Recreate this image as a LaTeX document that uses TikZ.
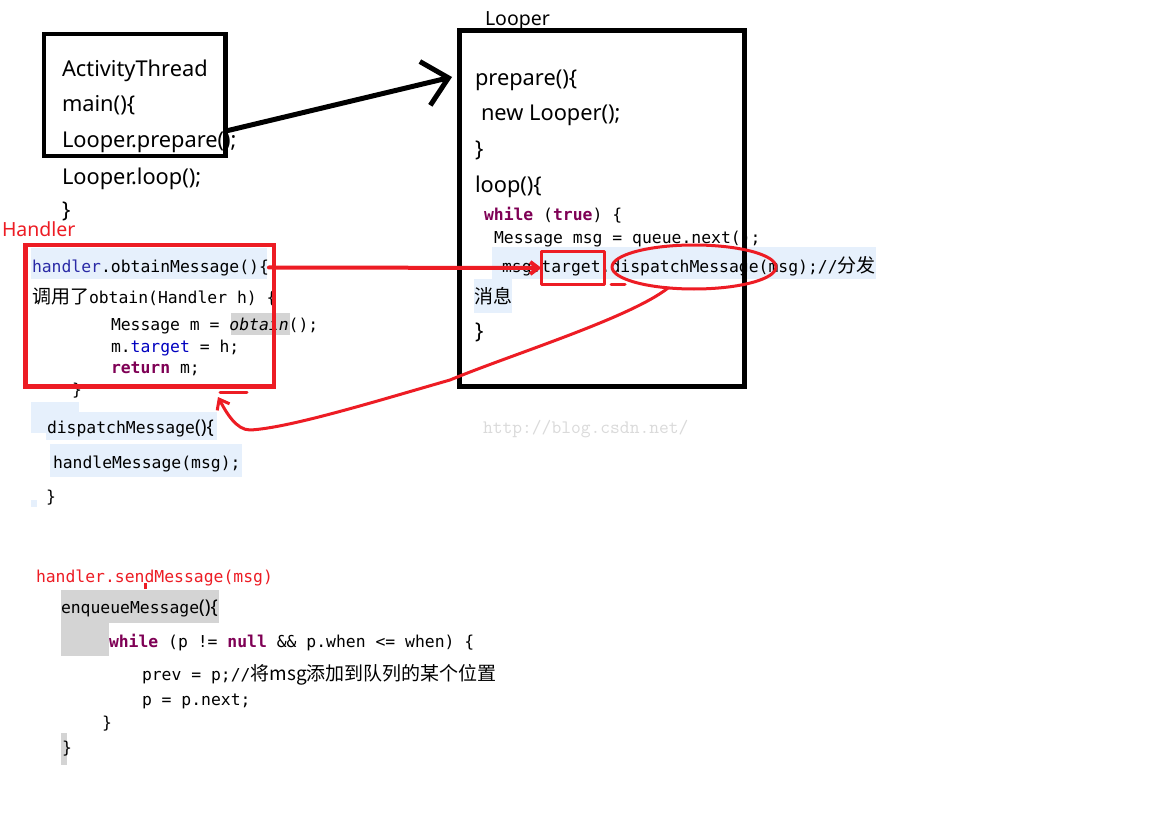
\documentclass[tikz,border=0pt]{standalone}
\usepackage{fontspec}
\usepackage{xcolor}
\usetikzlibrary{arrows.meta,shapes.geometric}
\setmainfont{Noto Sans}
\newfontfamily\cjk{Noto Sans CJK SC}
\newfontfamily\codefont{DejaVu Sans Mono}
\definecolor{ink}{HTML}{000000}
\definecolor{penred}{HTML}{ED1C24}
\definecolor{selblue}{HTML}{E6F0FC}
\definecolor{selgray}{HTML}{D4D4D4}
\definecolor{kwpurple}{HTML}{7F0055}
\definecolor{fieldblue}{HTML}{0000C0}
\definecolor{varblue}{HTML}{2A2AA6}
\definecolor{markgray}{HTML}{DADADA}
\newcommand{\kw}[1]{\textcolor{kwpurple}{\bfseries #1}}
\newcommand{\fld}[1]{\textcolor{fieldblue}{#1}}
\newcommand{\zh}[1]{{\cjk\fontsize{19}{19}\selectfont #1}}
\newcommand{\brc}[1]{{\rmfamily\fontsize{19}{19}\selectfont #1}}

\begin{document}
\begin{tikzpicture}[
  x=1pt, y=-1pt,
  every node/.style={inner sep=0pt, outer sep=0pt},
  plain/.style={anchor=base west, font=\fontsize{21.8}{21.8}\selectfont},
  tag/.style={anchor=base west, font=\fontsize{19.5}{19.5}\selectfont},
  code/.style={anchor=base west, font=\codefont\fontsize{16.4}{16.4}\selectfont},
  frame/.style={draw=ink, line width=4.5pt, rectangle},
  redframe/.style={draw=penred, line width=4.5pt, rectangle},
  redpen/.style={draw=penred, line width=3pt, line cap=round, line join=round},
  inkpen/.style={draw=ink, line width=5pt, line cap=round, line join=round},
  selb/.style={fill=selblue},
  selg/.style={fill=selgray}
]
\useasboundingbox (0,0) rectangle (1157,832);
\fill[white] (0,0) rectangle (1157,832);

% Selection shading
\fill[selb] (492,247) rectangle (876,279);
\fill[selb] (474,279) rectangle (512,313);
\fill[selb] (31,248) rectangle (267,279);
\fill[selb] (31,402) rectangle (79,412);
\fill[selb] (31,402) rectangle (46,433);
\fill[selb] (46,412) rectangle (217,440);
\fill[selb] (50,444) rectangle (242,477);
\fill[selb] (31,500) rectangle (37,507);
\fill[selg] (231,313) rectangle (290,335);
\fill[selg] (61,590) rectangle (219,623);
\fill[selg] (61,623) rectangle (109,656);
\fill[selg] (61,733) rectangle (67,765);

% ActivityThread
\node[plain] (atname) at (62,77) {ActivityThread};
\node[plain] (atmain) at (62,112) {main()\{};
\node[plain] (prep) at (62,148) {Looper.prepare();};
\node[plain] (loopcall) at (62,184) {Looper.loop();};
\node[plain] (atend) at (62,217) {\}};
\node[frame, minimum width=181.5pt, minimum height=122pt] (atbox) at (134.75,95) {};

% Looper
\node[tag] (lplabel) at (485,26) {Looper};
\node[plain] (lpprep) at (475,86) {prepare()\{};
\node[plain] (lpnew) at (481,121) {new Looper();};
\node[plain] (lpclose) at (475,157) {\}};
\node[plain] (lploop) at (475,193) {loop()\{};
\node[code] (lpwhile) at (484,220) {\kw{while} (\kw{true}) \{};
\node[code] (lpmsg) at (494,243) {Message msg = queue.next();};
\node[code] (lpdisp) at (502,272) {msg.target.dispatchMessage(msg);//\zh{分发}};
\node[tag] (lpinfo) at (474,303) {\zh{消息}};
\node[plain] (lpend) at (475,338) {\}};
\node[frame, line width=5pt, minimum width=285pt, minimum height=355pt] (lpbox) at (602,208.5) {};

% Handler
\node[tag, text=penred] (hlabel) at (2,236) {Handler};
\node[code] (obt) at (32,272) {\textcolor{varblue}{handler}.obtainMessage()\{};
\node[code] (obtcall) at (32,303) {\zh{调用了}obtain(Handler h) \{};
\node[code] (msgm) at (111,330) {Message m = \textit{obtain}();};
\node[code] (mtgt) at (111,352) {m.\fld{target} = h;};
\node[code] (mret) at (111,373) {\kw{return} m;};
\node[code] (hclose) at (72,395) {\}};
\node[redframe, minimum width=248.5pt, minimum height=141.5pt] (hbox) at (149.75,315.75) {};
\node[code] (dispdef) at (47,433) {dispatchMessage\brc{()\{}};
\node[code] (hmsg) at (53,468) {handleMessage(msg);};
\node[code] (dispend) at (46,502) {\}};

% watermark
\node[anchor=base west, font=\ttfamily\fontsize{19}{19}\selectfont, text=markgray] (mark) at (483,433) {http://blog.csdn.net/};

% sendMessage
\node[code, text=penred] (sendlabel) at (36,582) {handler.sendMessage(msg)};
\node[code] (enq) at (61,613) {enqueueMessage\brc{()\{}};
\node[code] (ewhile) at (109,647) {\kw{while} (p != \kw{null} \&\& p.when <= when) \{};
\node[code] (eprev) at (142,680) {prev = p;//\zh{将msg添加到队列的某个位置}};
\node[code] (enext) at (142,705) {p = p.next;};
\node[code] (eclose) at (102,728) {\}};
\node[code] (eend) at (62,753) {\}};
\draw[penred, line width=3pt] (145,583) -- (145,589);

% ActivityThread -> Looper
\coordinate (armstart) at (226,131);
\coordinate (armtip) at (452,77);
\draw[inkpen, -{Straight Barb[length=24pt,width=45pt]}] (armstart) -- (armtip);

% red marks
\node[redpen, rectangle, minimum width=63pt, minimum height=33pt] (tgtbox) at (573,268) {};
\node[redpen, ellipse, minimum width=164pt, minimum height=44pt] (dispring) at (694,267) {};
\draw[redpen] (611,284) -- (625,284);
\draw[redpen, line width=4pt, -{Straight Barb[length=8pt,width=12pt]}] (obt.east) -- (tgtbox.west);
\coordinate (hooktip) at (218,397);
\draw[redpen, -{Straight Barb[length=9pt,width=14pt]}] (dispring.219) .. controls (630,318) and (510,355) .. (450,380) .. controls (380,400) and (290,428) .. (250,430) .. controls (236,430) and (226,412) .. (hooktip);
\draw[redpen] (220,392) -- (247,392);

\end{tikzpicture}
\end{document}
